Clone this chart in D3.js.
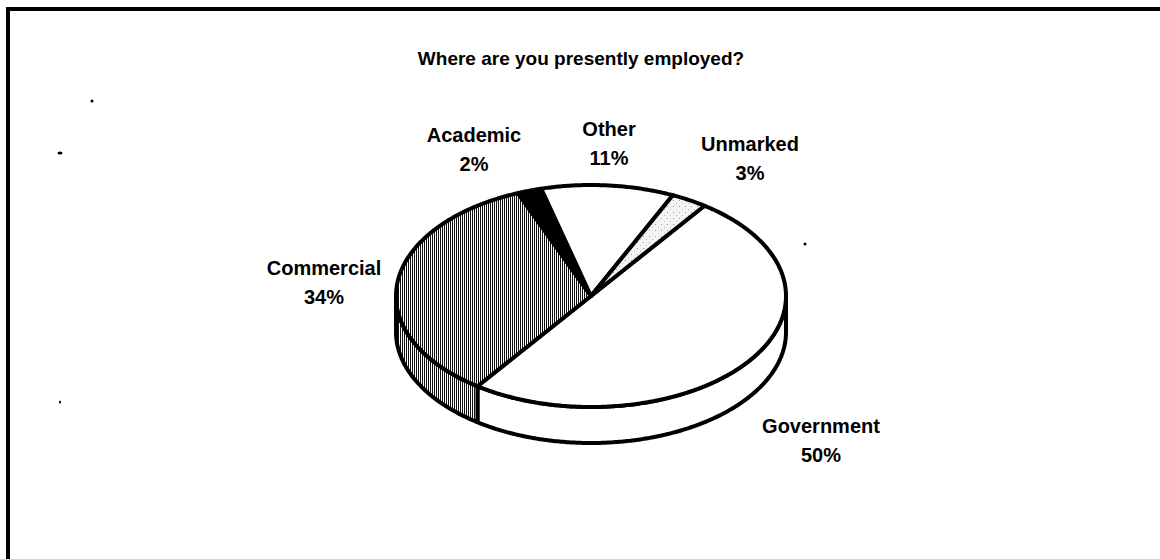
<!DOCTYPE html>
<html>
<head>
<meta charset="utf-8">
<script src="https://cdn.jsdelivr.net/npm/d3@7"></script>
<style>
  html, body { margin: 0; padding: 0; background: #fff; }
  svg { display: block; }
  text { font-family: "Liberation Sans", Arial, sans-serif; font-weight: bold; fill: #000; }
</style>
</head>
<body>
<svg id="chart" width="1160" height="559"></svg>
<script>
// Survey answers, in drawing order (clockwise from the upper right)
const categories = ["Government", "Commercial", "Academic", "Other", "Unmarked"];
const percents   = [50, 34, 2, 11, 3];
const labels     = ["50%", "34%", "2%", "11%", "3%"];
const title      = "Where are you presently employed?";

const W = 1160, H = 559;
const svg = d3.select("#chart");

// Frame: only the top and left edges
svg.append("path")
  .attr("d", `M8,${H} L8,9 L${W},9`)
  .attr("fill", "none").attr("stroke", "#000").attr("stroke-width", 4);

svg.append("text")
  .attr("x", 581).attr("y", 65)
  .attr("text-anchor", "middle")
  .style("font-size", "19px")
  .text(title);

// Fill patterns
const defs = svg.append("defs");
const hatch = defs.append("pattern")
  .attr("id", "hatch").attr("patternUnits", "userSpaceOnUse")
  .attr("width", 2).attr("height", 4);
hatch.append("rect").attr("width", 2).attr("height", 4).attr("fill", "#fff");
hatch.append("rect").attr("width", 1).attr("height", 4).attr("fill", "#111");

const dots = defs.append("pattern")
  .attr("id", "dots").attr("patternUnits", "userSpaceOnUse")
  .attr("width", 6).attr("height", 6);
dots.append("rect").attr("width", 6).attr("height", 6).attr("fill", "#f4f4f4");
dots.append("rect").attr("x", 1).attr("y", 2).attr("width", 1).attr("height", 1).attr("fill", "#999");
dots.append("rect").attr("x", 4).attr("y", 5).attr("width", 1).attr("height", 1).attr("fill", "#bbb");

const fills = {
  Government: "#fff",
  Commercial: "url(#hatch)",
  Academic: "#000",
  Other: "#fff",
  Unmarked: "url(#dots)"
};

// Tilted pie geometry
const cx = 591, cy = 296, rx = 195, ry = 111, depth = 36;
const startDeg = 35.6;

const pie = d3.pie().sort(null).value(d => d.value)
  .startAngle(startDeg * Math.PI / 180)
  .endAngle(startDeg * Math.PI / 180 + 2 * Math.PI);

const data = categories.map((c, i) => ({ name: c, value: percents[i], label: labels[i] }));
const arcs = pie(data);

// Point on the ellipse for a d3 pie angle (0 = up, clockwise)
const pt = (a, dy = 0) => [cx + rx * Math.sin(a), cy - ry * Math.cos(a) + dy];
const sample = (a0, a1, dy = 0) => {
  const n = Math.max(2, Math.ceil(Math.abs(a1 - a0) / 0.01));
  return d3.range(n + 1).map(k => pt(a0 + (a1 - a0) * k / n, dy));
};
const line = d3.line();

// Side walls: only the front half (angles between 90° and 270°) is visible
const gWalls = svg.append("g");
arcs.forEach(d => {
  const lo = Math.PI / 2, hi = 3 * Math.PI / 2;
  for (const shift of [0, 2 * Math.PI, -2 * Math.PI]) {
    const a0 = Math.max(d.startAngle + shift, lo);
    const a1 = Math.min(d.endAngle + shift, hi);
    if (a1 > a0) {
      const pts = sample(a0, a1).concat(sample(a1, a0, depth));
      gWalls.append("path")
        .attr("d", line(pts) + "Z")
        .attr("fill", fills[d.data.name])
        .attr("stroke", "#000").attr("stroke-width", 4)
        .attr("stroke-linejoin", "round");
    }
  }
});

// Top faces
const gTop = svg.append("g");
arcs.forEach(d => {
  const pts = [[cx, cy]].concat(sample(d.startAngle, d.endAngle));
  gTop.append("path")
    .attr("d", line(pts) + "Z")
    .attr("fill", fills[d.data.name])
    .attr("stroke", "#000").attr("stroke-width", 4)
    .attr("stroke-linejoin", "round");
});

// Category labels with percentages: [centre x, first baseline]
const labelPos = {
  Government: [821, 433],
  Commercial: [324, 275],
  Academic:   [474, 142],
  Other:      [609, 136],
  Unmarked:   [750, 151]
};
const gLab = svg.append("g");
arcs.forEach(d => {
  const [x, y] = labelPos[d.data.name];
  const t = gLab.append("text").attr("x", x).attr("y", y)
    .attr("text-anchor", "middle").style("font-size", "20px");
  t.append("tspan").attr("x", x).text(d.data.name);
  t.append("tspan").attr("x", x).attr("dy", 29).text(d.data.label);
});

// Small specks on the sheet
const specks = [[92, 101, 1.5, 1.5], [60, 153, 2.5, 1.5], [805, 244, 1.5, 1.5], [60, 402, 1, 1.5]];
svg.append("g").selectAll("ellipse").data(specks).join("ellipse")
  .attr("cx", d => d[0]).attr("cy", d => d[1])
  .attr("rx", d => d[2]).attr("ry", d => d[3]).attr("fill", "#000");
</script>
</body>
</html>
